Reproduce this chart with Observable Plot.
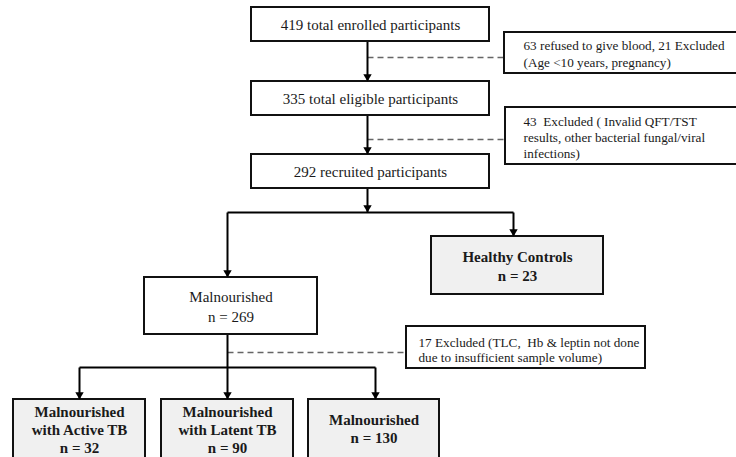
<!DOCTYPE html>
<html>
<head>
<meta charset="utf-8">
<script src="https://cdn.jsdelivr.net/npm/d3@7"></script>
<script src="https://cdn.jsdelivr.net/npm/@observablehq/plot@0.6"></script>
<style>
  html, body { margin: 0; padding: 0; background: #fff; }
  svg { display: block; }
</style>
</head>
<body>
<div id="chart"></div>
<script>
// ---------- data ----------
const stageCounts = [419, 335, 292];
const stageLabels = ["total enrolled participants", "total eligible participants", "recruited participants"];
const exclusionNotes = [
  ["63 refused to give blood, 21 Excluded", "(Age <10 years, pregnancy)"],
  ["43  Excluded ( Invalid QFT/TST", "results, other bacterial fungal/viral", "infections)"],
  ["17 Excluded (TLC,  Hb & leptin not done", "due to insufficient sample volume)"]
];
const groupNames = [
  ["Healthy Controls"],
  ["Malnourished"],
  ["Malnourished", "with Active TB"],
  ["Malnourished", "with Latent TB"],
  ["Malnourished"]
];
const groupCounts = [23, 269, 32, 90, 130];

// ---------- layout (pixel space of the 736x457 canvas) ----------
const stageBoxes = [
  {x1: 251, x2: 489, y1: 7, y2: 41},
  {x1: 251, x2: 489, y1: 81, y2: 115},
  {x1: 251, x2: 489, y1: 154, y2: 188}
];
const noteBoxes = [
  {x1: 504, x2: 742, y1: 32, y2: 73, tx: 523, ty: [45, 62]},
  {x1: 505, x2: 742, y1: 107, y2: 164, tx: 523, ty: [121, 137, 153]},
  {x1: 406, x2: 645, y1: 326, y2: 368, tx: 418, ty: [342, 357]}
];
const groupBoxes = [
  {x1: 431, x2: 603, y1: 236, y2: 294, ty: [257, 276], bold: true},
  {x1: 144, x2: 317, y1: 277, y2: 334, ty: [297, 317], bold: false},
  {x1: 13, x2: 145, y1: 399, y2: 470, ty: [412, 430, 448], bold: true},
  {x1: 161, x2: 293, y1: 399, y2: 470, ty: [412, 430, 448], bold: true},
  {x1: 308, x2: 439, y1: 399, y2: 470, ty: [420, 438], bold: true}
];
const solidLinks = [
  {x1: 367, y1: 41, x2: 367, y2: 81},
  {x1: 367, y1: 115, x2: 367, y2: 154},
  {x1: 367, y1: 188, x2: 367, y2: 212},
  {x1: 227, y1: 212, x2: 513, y2: 212},
  {x1: 227, y1: 212, x2: 227, y2: 277},
  {x1: 513, y1: 212, x2: 513, y2: 236},
  {x1: 227, y1: 334, x2: 227, y2: 399},
  {x1: 79, y1: 367, x2: 375, y2: 367},
  {x1: 79, y1: 367, x2: 79, y2: 399},
  {x1: 375, y1: 367, x2: 375, y2: 399}
];
const arrowTips = [
  {x: 367, y: 81}, {x: 367, y: 154}, {x: 367, y: 212},
  {x: 227, y: 277}, {x: 513, y: 236},
  {x: 79, y: 399}, {x: 227, y: 399}, {x: 375, y: 399}
];
const dashedLinks = [
  {x1: 367, y1: 57, x2: 504, y2: 57},
  {x1: 367, y1: 139, x2: 505, y2: 139},
  {x1: 227, y1: 352, x2: 406, y2: 352}
];

// ---------- derived tables ----------
const stageText = stageBoxes.map((b, i) => ({
  x: (b.x1 + b.x2) / 2, y: (b.y1 + b.y2) / 2 + 1, text: `${stageCounts[i]} ${stageLabels[i]}`
}));
const noteText = noteBoxes.flatMap((b, i) => exclusionNotes[i].map((t, j) => ({x: b.tx, y: b.ty[j], text: t})));
const groupText = groupBoxes.flatMap((b, i) => {
  const lines = [...groupNames[i], `n = ${groupCounts[i]}`];
  return lines.map((t, j) => ({x: (b.x1 + b.x2) / 2, y: b.ty[j], text: t, bold: b.bold}));
});
const boldText = groupText.filter(d => d.bold);
const plainText = groupText.filter(d => !d.bold);
const allRects = [
  ...stageBoxes.map(b => ({...b, fill: "#ffffff"})),
  ...noteBoxes.map(b => ({...b, fill: "#ffffff"})),
  ...groupBoxes.map(b => ({...b, fill: b.bold ? "#f0f0f0" : "#ffffff"}))
];
// arrow head: downward triangle; centre offset so the tip touches the target
const R = 4;
const tipOffset = Math.sqrt(Math.PI * R * R) * 0.6824;
const arrowHeads = arrowTips.map(d => ({x: d.x, y: d.y - tipOffset}));

const font = "'Liberation Serif', 'Times New Roman', serif";

const chart = Plot.plot({
  width: 736,
  height: 457,
  margin: 0,
  x: {domain: [0, 736], range: [0, 736], axis: null},
  y: {domain: [0, 457], range: [0, 457], axis: null},
  style: {fontFamily: font, background: "#fff"},
  marks: [
    Plot.link(dashedLinks, {x1: "x1", y1: "y1", x2: "x2", y2: "y2", stroke: "#666", strokeWidth: 1.6, strokeDasharray: "6,4"}),
    Plot.link(solidLinks, {x1: "x1", y1: "y1", x2: "x2", y2: "y2", stroke: "#000", strokeWidth: 2}),
    Plot.rect(allRects, {x1: "x1", x2: "x2", y1: "y1", y2: "y2", fill: d => d.fill, stroke: "#111", strokeWidth: 2}),
    Plot.dot(arrowHeads, {x: "x", y: "y", symbol: "triangle2", r: R, fill: "#000", stroke: "none", rotate: 180}),
    Plot.text(stageText, {x: "x", y: "y", text: "text", fontSize: 15, fill: "#1a1a1a", fontFamily: font}),
    Plot.text(noteText, {x: "x", y: "y", text: "text", fontSize: 13.2, textAnchor: "start", fill: "#1a1a1a", fontFamily: font}),
    Plot.text(plainText, {x: "x", y: "y", text: "text", fontSize: 15, fill: "#1a1a1a", fontFamily: font}),
    Plot.text(boldText, {x: "x", y: "y", text: "text", fontSize: 15, fontWeight: "bold", fill: "#1a1a1a", fontFamily: font})
  ]
});
document.getElementById("chart").appendChild(chart);
</script>
</body>
</html>
